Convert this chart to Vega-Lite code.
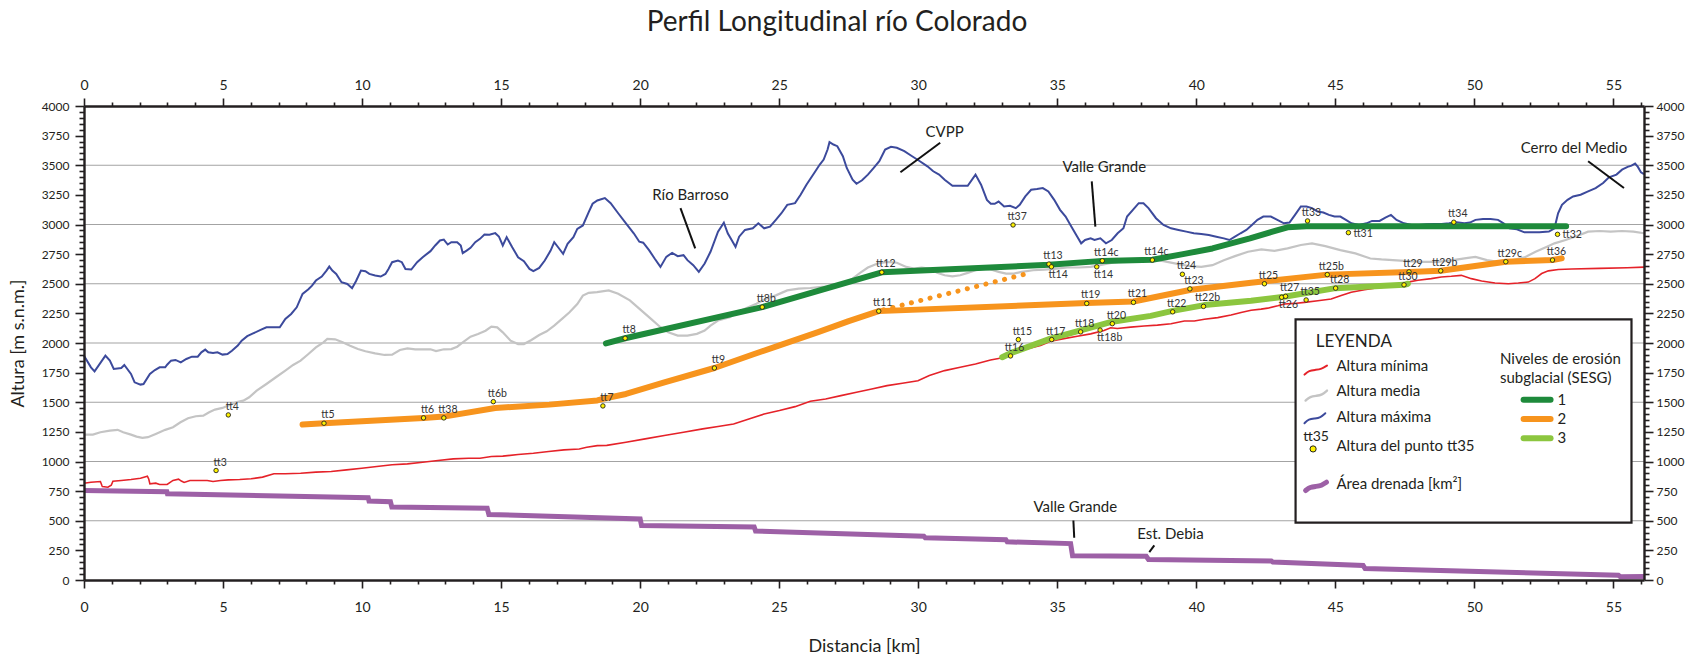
{
  "$schema": "https://vega.github.io/schema/vega-lite/v6.json",
  "width": 1560,
  "height": 474,
  "autosize": {"type": "none"},
  "padding": {"left": 84, "top": 106, "right": 44, "bottom": 79},
  "background": "white",
  "title": {"text": "Perfil Longitudinal río Colorado", "font": "Lato", "fontSize": 28, "fontWeight": "normal", "color": "#231f20", "anchor": "middle", "offset": 41, "dx": -27},
  "config": {"view": {"stroke": null}, "font": "Lato"},
  "datasets": {
    "rejilla": [{"m": 500}, {"m": 1000}, {"m": 1500}, {"m": 2000}, {"m": 2500}, {"m": 3000}, {"m": 3500}],
    "maxima": [
      {"km":0,"m":1893},{"km":0.25,"m":1795},{"km":0.38,"m":1761},{"km":0.77,"m":1893},{"km":0.93,"m":1851},{"km":1.07,"m":1781},{"km":1.34,"m":1789},{"km":1.45,"m":1815},{"km":1.69,"m":1739},{"km":1.82,"m":1668},{"km":2.03,"m":1649},{"km":2.14,"m":1654},{"km":2.37,"m":1739},{"km":2.55,"m":1772},{"km":2.72,"m":1795},{"km":2.92,"m":1795},{"km":2.99,"m":1817},{"km":3.13,"m":1851},{"km":3.29,"m":1857},{"km":3.48,"m":1837},{"km":3.68,"m":1865},{"km":3.88,"m":1885},{"km":4.09,"m":1885},{"km":4.22,"m":1921},{"km":4.36,"m":1944},{"km":4.47,"m":1921},{"km":4.64,"m":1916},{"km":4.8,"m":1921},{"km":4.98,"m":1902},{"km":5.16,"m":1907},{"km":5.32,"m":1935},{"km":5.53,"m":1978},{"km":5.67,"m":2020},{"km":5.87,"m":2058},{"km":6.08,"m":2081},{"km":6.35,"m":2110},{"km":6.56,"m":2132},{"km":6.83,"m":2132},{"km":7.04,"m":2132},{"km":7.24,"m":2203},{"km":7.45,"m":2245},{"km":7.65,"m":2301},{"km":7.86,"m":2414},{"km":8.07,"m":2453},{"km":8.2,"m":2484},{"km":8.34,"m":2527},{"km":8.55,"m":2561},{"km":8.72,"m":2611},{"km":8.82,"m":2645},{"km":8.93,"m":2611},{"km":9.07,"m":2583},{"km":9.26,"m":2513},{"km":9.47,"m":2498},{"km":9.64,"m":2462},{"km":9.78,"m":2521},{"km":9.96,"m":2611},{"km":10.12,"m":2606},{"km":10.26,"m":2583},{"km":10.47,"m":2569},{"km":10.67,"m":2561},{"km":10.84,"m":2583},{"km":10.95,"m":2625},{"km":11.08,"m":2682},{"km":11.29,"m":2696},{"km":11.43,"m":2682},{"km":11.56,"m":2625},{"km":11.77,"m":2620},{"km":11.98,"m":2682},{"km":12.18,"m":2724},{"km":12.46,"m":2775},{"km":12.63,"m":2823},{"km":12.8,"m":2865},{"km":12.94,"m":2873},{"km":13.08,"m":2831},{"km":13.21,"m":2851},{"km":13.42,"m":2851},{"km":13.55,"m":2823},{"km":13.62,"m":2758},{"km":13.76,"m":2780},{"km":13.9,"m":2803},{"km":14.07,"m":2851},{"km":14.24,"m":2879},{"km":14.4,"m":2916},{"km":14.58,"m":2913},{"km":14.79,"m":2927},{"km":14.92,"m":2899},{"km":15.06,"m":2823},{"km":15.2,"m":2893},{"km":15.4,"m":2808},{"km":15.61,"m":2724},{"km":15.82,"m":2690},{"km":16.02,"m":2625},{"km":16.16,"m":2606},{"km":16.37,"m":2634},{"km":16.57,"m":2696},{"km":16.78,"m":2780},{"km":16.91,"m":2851},{"km":17.05,"m":2808},{"km":17.23,"m":2752},{"km":17.39,"m":2837},{"km":17.6,"m":2893},{"km":17.74,"m":2963},{"km":17.94,"m":2992},{"km":18.15,"m":3104},{"km":18.29,"m":3175},{"km":18.46,"m":3203},{"km":18.73,"m":3223},{"km":18.94,"m":3180},{"km":19.21,"m":3095},{"km":19.49,"m":3010},{"km":19.77,"m":2926},{"km":19.97,"m":2855},{"km":20.11,"m":2846},{"km":20.32,"m":2784},{"km":20.52,"m":2713},{"km":20.73,"m":2642},{"km":20.94,"m":2727},{"km":21.15,"m":2761},{"km":21.35,"m":2733},{"km":21.56,"m":2741},{"km":21.7,"m":2699},{"km":21.91,"m":2657},{"km":22.11,"m":2600},{"km":22.32,"m":2671},{"km":22.53,"m":2770},{"km":22.8,"m":2940},{"km":23.01,"m":3016},{"km":23.15,"m":2926},{"km":23.29,"m":2869},{"km":23.43,"m":2812},{"km":23.56,"m":2897},{"km":23.77,"m":2954},{"km":24.05,"m":2968},{"km":24.25,"m":3010},{"km":24.46,"m":2968},{"km":24.67,"m":2982},{"km":24.88,"m":3039},{"km":25.08,"m":3095},{"km":25.29,"m":3166},{"km":25.57,"m":3180},{"km":25.77,"m":3251},{"km":25.98,"m":3336},{"km":26.26,"m":3435},{"km":26.46,"m":3506},{"km":26.6,"m":3548},{"km":26.74,"m":3633},{"km":26.81,"m":3695},{"km":26.95,"m":3675},{"km":27.09,"m":3661},{"km":27.29,"m":3576},{"km":27.43,"m":3477},{"km":27.64,"m":3378},{"km":27.78,"m":3344},{"km":27.98,"m":3373},{"km":28.19,"m":3421},{"km":28.4,"m":3477},{"km":28.6,"m":3534},{"km":28.81,"m":3633},{"km":29.02,"m":3656},{"km":29.23,"m":3647},{"km":29.5,"m":3619},{"km":29.78,"m":3576},{"km":30.06,"m":3534},{"km":30.33,"m":3491},{"km":30.54,"m":3449},{"km":30.75,"m":3421},{"km":30.95,"m":3378},{"km":31.23,"m":3327},{"km":31.51,"m":3327},{"km":31.78,"m":3327},{"km":32.06,"m":3421},{"km":32.26,"m":3336},{"km":32.47,"m":3208},{"km":32.61,"m":3175},{"km":32.75,"m":3175},{"km":32.89,"m":3194},{"km":33.09,"m":3152},{"km":33.3,"m":3158},{"km":33.51,"m":3138},{"km":33.65,"m":3166},{"km":33.85,"m":3237},{"km":34.06,"m":3293},{"km":34.27,"m":3299},{"km":34.48,"m":3307},{"km":34.68,"m":3279},{"km":34.89,"m":3208},{"km":35.1,"m":3124},{"km":35.3,"m":3067},{"km":35.51,"m":2982},{"km":35.72,"m":2897},{"km":35.86,"m":2841},{"km":36.0,"m":2869},{"km":36.2,"m":2883},{"km":36.34,"m":2869},{"km":36.55,"m":2883},{"km":36.75,"m":2841},{"km":36.96,"m":2869},{"km":37.17,"m":2926},{"km":37.38,"m":2968},{"km":37.51,"m":3067},{"km":37.72,"m":3124},{"km":37.93,"m":3180},{"km":38.1,"m":3180},{"km":38.28,"m":3138},{"km":38.55,"m":3053},{"km":38.82,"m":2996},{"km":39.09,"m":2968},{"km":39.36,"m":2954},{"km":39.64,"m":2940},{"km":39.91,"m":2926},{"km":40.18,"m":2920},{"km":40.45,"m":2911},{"km":40.72,"m":2897},{"km":40.99,"m":2883},{"km":41.19,"m":2869},{"km":41.39,"m":2897},{"km":41.59,"m":2926},{"km":41.8,"m":2954},{"km":42.0,"m":2996},{"km":42.2,"m":3039},{"km":42.41,"m":3067},{"km":42.68,"m":3067},{"km":42.88,"m":3044},{"km":43.15,"m":3010},{"km":43.35,"m":3016},{"km":43.55,"m":3081},{"km":43.76,"m":3152},{"km":43.96,"m":3152},{"km":44.16,"m":3138},{"km":44.36,"m":3109},{"km":44.57,"m":3101},{"km":44.77,"m":3081},{"km":44.97,"m":3067},{"km":45.18,"m":3067},{"km":45.38,"m":3039},{"km":45.58,"m":3010},{"km":45.85,"m":2996},{"km":46.12,"m":3010},{"km":46.32,"m":3030},{"km":46.59,"m":3030},{"km":46.8,"m":3058},{"km":47.0,"m":3081},{"km":47.2,"m":3039},{"km":47.47,"m":3010},{"km":47.74,"m":2996},{"km":48.01,"m":2996},{"km":48.28,"m":3002},{"km":48.55,"m":3005},{"km":48.82,"m":3005},{"km":49.09,"m":3010},{"km":49.36,"m":3019},{"km":49.64,"m":3010},{"km":49.84,"m":3016},{"km":50.04,"m":3039},{"km":50.31,"m":3047},{"km":50.58,"m":3047},{"km":50.85,"m":3039},{"km":51.05,"m":3010},{"km":51.26,"m":2968},{"km":51.53,"m":2960},{"km":51.8,"m":2934},{"km":52.07,"m":2934},{"km":52.34,"m":2934},{"km":52.68,"m":2940},{"km":52.88,"m":2968},{"km":53.01,"m":3095},{"km":53.15,"m":3166},{"km":53.35,"m":3208},{"km":53.55,"m":3237},{"km":53.82,"m":3251},{"km":54.09,"m":3279},{"km":54.36,"m":3307},{"km":54.63,"m":3350},{"km":54.84,"m":3398},{"km":55.11,"m":3421},{"km":55.31,"m":3463},{"km":55.51,"m":3486},{"km":55.65,"m":3497},{"km":55.78,"m":3514},{"km":55.88,"m":3486},{"km":55.99,"m":3441},{"km":56.1,"m":3426}
    ],
    "media": [
      {"km":0,"m":1227},{"km":0.32,"m":1227},{"km":0.59,"m":1247},{"km":0.93,"m":1261},{"km":1.21,"m":1267},{"km":1.41,"m":1247},{"km":1.69,"m":1227},{"km":1.89,"m":1210},{"km":2.1,"m":1199},{"km":2.3,"m":1205},{"km":2.58,"m":1233},{"km":2.92,"m":1267},{"km":3.2,"m":1289},{"km":3.47,"m":1331},{"km":3.74,"m":1365},{"km":4.02,"m":1382},{"km":4.29,"m":1387},{"km":4.5,"m":1416},{"km":4.71,"m":1438},{"km":4.98,"m":1452},{"km":5.19,"m":1472},{"km":5.46,"m":1500},{"km":5.73,"m":1514},{"km":5.94,"m":1542},{"km":6.21,"m":1598},{"km":6.56,"m":1654},{"km":6.9,"m":1711},{"km":7.24,"m":1767},{"km":7.52,"m":1815},{"km":7.79,"m":1851},{"km":8.07,"m":1907},{"km":8.34,"m":1963},{"km":8.61,"m":2006},{"km":8.75,"m":2034},{"km":9.03,"m":2031},{"km":9.3,"m":2006},{"km":9.57,"m":1977},{"km":9.85,"m":1949},{"km":10.12,"m":1930},{"km":10.47,"m":1913},{"km":10.81,"m":1899},{"km":11.08,"m":1901},{"km":11.36,"m":1941},{"km":11.63,"m":1955},{"km":11.91,"m":1947},{"km":12.18,"m":1947},{"km":12.46,"m":1947},{"km":12.66,"m":1932},{"km":12.94,"m":1947},{"km":13.21,"m":1949},{"km":13.42,"m":1969},{"km":13.62,"m":2006},{"km":13.9,"m":2053},{"km":14.17,"m":2076},{"km":14.44,"m":2104},{"km":14.65,"m":2138},{"km":14.86,"m":2132},{"km":15.06,"m":2090},{"km":15.34,"m":2020},{"km":15.61,"m":1991},{"km":15.82,"m":1991},{"km":16.09,"m":2025},{"km":16.37,"m":2067},{"km":16.64,"m":2099},{"km":16.91,"m":2146},{"km":17.19,"m":2203},{"km":17.46,"m":2259},{"km":17.74,"m":2329},{"km":17.94,"m":2400},{"km":18.15,"m":2423},{"km":18.45,"m":2430},{"km":18.87,"m":2444},{"km":19.21,"m":2416},{"km":19.63,"m":2360},{"km":20.04,"m":2275},{"km":20.39,"m":2204},{"km":20.73,"m":2133},{"km":21.01,"m":2091},{"km":21.35,"m":2062},{"km":21.7,"m":2062},{"km":22.04,"m":2077},{"km":22.32,"m":2105},{"km":22.53,"m":2147},{"km":22.8,"m":2190},{"km":23.22,"m":2218},{"km":23.63,"m":2275},{"km":23.91,"m":2303},{"km":24.18,"m":2331},{"km":24.53,"m":2374},{"km":24.88,"m":2402},{"km":25.29,"m":2444},{"km":25.7,"m":2459},{"km":26.12,"m":2464},{"km":26.53,"m":2473},{"km":26.95,"m":2473},{"km":27.29,"m":2501},{"km":27.64,"m":2543},{"km":27.91,"m":2592},{"km":28.19,"m":2637},{"km":28.54,"m":2671},{"km":28.88,"m":2685},{"km":29.23,"m":2677},{"km":29.57,"m":2642},{"km":29.85,"m":2628},{"km":30.12,"m":2637},{"km":30.4,"m":2628},{"km":30.68,"m":2592},{"km":30.95,"m":2572},{"km":31.23,"m":2563},{"km":31.51,"m":2572},{"km":31.78,"m":2592},{"km":32.06,"m":2614},{"km":32.33,"m":2628},{"km":32.61,"m":2620},{"km":32.89,"m":2600},{"km":33.16,"m":2586},{"km":33.44,"m":2586},{"km":33.72,"m":2600},{"km":34.13,"m":2614},{"km":34.54,"m":2620},{"km":34.96,"m":2628},{"km":35.37,"m":2637},{"km":35.79,"m":2637},{"km":36.2,"m":2642},{"km":36.62,"m":2660},{"km":37.03,"m":2680},{"km":37.44,"m":2690},{"km":37.86,"m":2700},{"km":38.38,"m":2705},{"km":38.82,"m":2691},{"km":39.36,"m":2665},{"km":39.77,"m":2648},{"km":40.18,"m":2642},{"km":40.58,"m":2657},{"km":40.99,"m":2699},{"km":41.39,"m":2733},{"km":41.86,"m":2770},{"km":42.34,"m":2790},{"km":42.81,"m":2778},{"km":43.28,"m":2798},{"km":43.76,"m":2827},{"km":44.16,"m":2841},{"km":44.64,"m":2818},{"km":45.18,"m":2784},{"km":45.72,"m":2756},{"km":46.26,"m":2713},{"km":46.66,"m":2705},{"km":47.07,"m":2699},{"km":47.61,"m":2691},{"km":48.15,"m":2685},{"km":48.69,"m":2685},{"km":49.23,"m":2699},{"km":49.77,"m":2719},{"km":50.04,"m":2727},{"km":50.45,"m":2699},{"km":50.85,"m":2685},{"km":51.39,"m":2699},{"km":51.8,"m":2722},{"km":52.2,"m":2770},{"km":52.61,"m":2812},{"km":52.88,"m":2841},{"km":53.28,"m":2869},{"km":53.69,"m":2903},{"km":54.09,"m":2940},{"km":54.5,"m":2945},{"km":54.9,"m":2940},{"km":55.31,"m":2945},{"km":55.72,"m":2940},{"km":56.1,"m":2926}
    ],
    "minima": [
      {"km":0,"m":817},{"km":0.25,"m":825},{"km":0.59,"m":831},{"km":0.64,"m":800},{"km":0.66,"m":789},{"km":0.86,"m":783},{"km":0.98,"m":800},{"km":1.04,"m":834},{"km":1.34,"m":840},{"km":1.69,"m":848},{"km":2.03,"m":859},{"km":2.28,"m":876},{"km":2.33,"m":850},{"km":2.37,"m":811},{"km":2.58,"m":817},{"km":2.72,"m":806},{"km":2.99,"m":806},{"km":3.2,"m":840},{"km":3.4,"m":851},{"km":3.5,"m":835},{"km":3.6,"m":823},{"km":3.81,"m":840},{"km":4.09,"m":840},{"km":4.43,"m":840},{"km":4.64,"m":831},{"km":4.91,"m":840},{"km":5.19,"m":845},{"km":5.6,"m":848},{"km":6.01,"m":854},{"km":6.42,"m":868},{"km":6.83,"m":896},{"km":7.24,"m":896},{"km":7.79,"m":901},{"km":8.34,"m":910},{"km":8.89,"m":915},{"km":9.44,"m":929},{"km":9.99,"m":943},{"km":10.53,"m":958},{"km":11.08,"m":972},{"km":11.63,"m":980},{"km":12.18,"m":994},{"km":12.73,"m":1008},{"km":13.28,"m":1022},{"km":13.83,"m":1028},{"km":14.24,"m":1028},{"km":14.65,"m":1042},{"km":15.06,"m":1045},{"km":15.61,"m":1059},{"km":16.16,"m":1070},{"km":16.71,"m":1084},{"km":17.26,"m":1098},{"km":17.81,"m":1106},{"km":18.08,"m":1120},{"km":18.46,"m":1134},{"km":18.8,"m":1136},{"km":19.49,"m":1163},{"km":20.18,"m":1191},{"km":20.87,"m":1219},{"km":21.56,"m":1247},{"km":22.25,"m":1275},{"km":22.8,"m":1295},{"km":23.36,"m":1317},{"km":23.91,"m":1359},{"km":24.46,"m":1401},{"km":25.01,"m":1430},{"km":25.57,"m":1463},{"km":26.12,"m":1508},{"km":26.67,"m":1528},{"km":27.22,"m":1556},{"km":27.78,"m":1584},{"km":28.33,"m":1612},{"km":28.88,"m":1640},{"km":29.43,"m":1660},{"km":29.99,"m":1682},{"km":30.4,"m":1725},{"km":30.95,"m":1767},{"km":31.51,"m":1795},{"km":32.06,"m":1823},{"km":32.6,"m":1857},{"km":33.08,"m":1877},{"km":33.32,"m":1894},{"km":33.56,"m":1929},{"km":34.04,"m":1957},{"km":34.4,"m":1980},{"km":34.76,"m":2014},{"km":35.24,"m":2037},{"km":35.72,"m":2057},{"km":36.2,"m":2077},{"km":36.68,"m":2106},{"km":36.92,"m":2129},{"km":37.16,"m":2123},{"km":37.64,"m":2134},{"km":38.12,"m":2143},{"km":38.6,"m":2151},{"km":39.09,"m":2163},{"km":39.57,"m":2186},{"km":39.93,"m":2186},{"km":40.29,"m":2200},{"km":40.77,"m":2214},{"km":41.25,"m":2237},{"km":41.61,"m":2257},{"km":41.97,"m":2277},{"km":42.33,"m":2286},{"km":42.57,"m":2294},{"km":42.93,"m":2314},{"km":43.17,"m":2329},{"km":43.53,"m":2334},{"km":43.89,"m":2343},{"km":44.37,"m":2357},{"km":44.85,"m":2371},{"km":45.21,"m":2400},{"km":45.57,"m":2429},{"km":46.05,"m":2449},{"km":46.53,"m":2466},{"km":47.01,"m":2477},{"km":47.43,"m":2491},{"km":47.61,"m":2514},{"km":47.97,"m":2529},{"km":48.45,"m":2543},{"km":48.81,"m":2557},{"km":49.17,"m":2563},{"km":49.53,"m":2571},{"km":49.89,"m":2543},{"km":50.26,"m":2523},{"km":50.74,"m":2506},{"km":51.22,"m":2500},{"km":51.58,"m":2506},{"km":51.94,"m":2514},{"km":52.18,"m":2543},{"km":52.42,"m":2586},{"km":52.66,"m":2609},{"km":53.02,"m":2620},{"km":53.5,"m":2625},{"km":54.5,"m":2630},{"km":55.5,"m":2635},{"km":56.1,"m":2640}
    ],
    "area": [
      {"km":0,"m":755},{"km":2.98,"m":745},{"km":3.0,"m":727},{"km":10.22,"m":695},{"km":10.25,"m":667},{"km":11.02,"m":660},{"km":11.07,"m":615},{"km":14.5,"m":605},{"km":14.56,"m":553},{"km":20.0,"m":515},{"km":20.05,"m":460},{"km":24.1,"m":447},{"km":24.15,"m":414},{"km":30.2,"m":370},{"km":30.25,"m":357},{"km":33.15,"m":340},{"km":33.2,"m":322},{"km":35.48,"m":307},{"km":35.55,"m":204},{"km":38.2,"m":200},{"km":38.28,"m":173},{"km":42.7,"m":160},{"km":42.75,"m":152},{"km":46.0,"m":122},{"km":46.07,"m":97},{"km":55.18,"m":40},{"km":55.25,"m":27},{"km":56.1,"m":30}
    ],
    "sesg": [
      {"nivel":"1","km":18.77,"m":1997},{"nivel":"1","km":19.46,"m":2040},{"nivel":"1","km":24.39,"m":2303},{"nivel":"1","km":28.69,"m":2597},{"nivel":"1","km":34.71,"m":2660},{"nivel":"1","km":36.62,"m":2693},{"nivel":"1","km":38.42,"m":2703},{"nivel":"1","km":39.57,"m":2752},{"nivel":"1","km":40.58,"m":2798},{"nivel":"1","km":41.93,"m":2883},{"nivel":"1","km":42.74,"m":2940},{"nivel":"1","km":43.28,"m":2976},{"nivel":"1","km":43.96,"m":2986},{"nivel":"1","km":53.3,"m":2986},
      {"nivel":"2","km":7.86,"m":1312},{"nivel":"2","km":8.63,"m":1323},{"nivel":"2","km":12.21,"m":1368},{"nivel":"2","km":12.94,"m":1379},{"nivel":"2","km":14.79,"m":1452},{"nivel":"2","km":16.73,"m":1480},{"nivel":"2","km":18.46,"m":1515},{"nivel":"2","km":18.66,"m":1528},{"nivel":"2","km":19.49,"m":1570},{"nivel":"2","km":20.87,"m":1668},{"nivel":"2","km":22.67,"m":1789},{"nivel":"2","km":24.05,"m":1903},{"nivel":"2","km":25.01,"m":1980},{"nivel":"2","km":26.4,"m":2092},{"nivel":"2","km":27.5,"m":2185},{"nivel":"2","km":28.58,"m":2269},{"nivel":"2","km":36.06,"m":2337},{"nivel":"2","km":37.74,"m":2350},{"nivel":"2","km":39.81,"m":2449},{"nivel":"2","km":41.97,"m":2509},{"nivel":"2","km":44.71,"m":2577},{"nivel":"2","km":47.65,"m":2600},{"nivel":"2","km":48.79,"m":2609},{"nivel":"2","km":51.13,"m":2686},{"nivel":"2","km":52.81,"m":2700},{"nivel":"2","km":53.14,"m":2714},
      {"nivel":"3","km":33.02,"m":1880},{"nivel":"3","km":33.32,"m":1914},{"nivel":"3","km":34.76,"m":2037},{"nivel":"3","km":35.84,"m":2106},{"nivel":"3","km":36.98,"m":2180},{"nivel":"3","km":38.36,"m":2229},{"nivel":"3","km":39.15,"m":2271},{"nivel":"3","km":40.29,"m":2320},{"nivel":"3","km":41.97,"m":2357},{"nivel":"3","km":43.16,"m":2390},{"nivel":"3","km":45.01,"m":2463},{"nivel":"3","km":47.47,"m":2491},{"nivel":"3","km":47.61,"m":2500}
    ],
    "sesg_inferido": [{"km":28.75,"m":2280},{"km":34.0,"m":2590}],
    "puntos": [
      {"id":"tt3","km":4.75,"m":924,"lado":"arriba"},
      {"id":"tt4","km":5.19,"m":1393,"lado":"arriba"},
      {"id":"tt5","km":8.63,"m":1323,"lado":"arriba"},
      {"id":"tt6","km":12.21,"m":1368,"lado":"arriba"},
      {"id":"tt38","km":12.94,"m":1368,"lado":"arriba"},
      {"id":"tt6b","km":14.72,"m":1505,"lado":"arriba"},
      {"id":"tt7","km":18.66,"m":1469,"lado":"arriba"},
      {"id":"tt8","km":19.46,"m":2040,"lado":"arriba"},
      {"id":"tt8b","km":24.39,"m":2303,"lado":"arriba"},
      {"id":"tt9","km":22.67,"m":1789,"lado":"arriba"},
      {"id":"tt11","km":28.58,"m":2269,"lado":"arriba"},
      {"id":"tt12","km":28.69,"m":2597,"lado":"arriba"},
      {"id":"tt13","km":34.7,"m":2666,"lado":"arriba"},
      {"id":"tt14","km":34.79,"m":2643,"lado":"abajo"},
      {"id":"tt14c","km":36.62,"m":2694,"lado":"arriba"},
      {"id":"tt14","km":36.42,"m":2643,"lado":"abajo"},
      {"id":"tt14c","km":38.42,"m":2700,"lado":"arriba"},
      {"id":"tt15","km":33.6,"m":2029,"lado":"arriba"},
      {"id":"tt16","km":33.32,"m":1891,"lado":"arriba"},
      {"id":"tt17","km":34.8,"m":2029,"lado":"arriba"},
      {"id":"tt18","km":35.84,"m":2094,"lado":"arriba"},
      {"id":"tt18b","km":36.54,"m":2109,"lado":"abajo"},
      {"id":"tt19","km":36.06,"m":2334,"lado":"arriba"},
      {"id":"tt20","km":36.98,"m":2163,"lado":"arriba"},
      {"id":"tt21","km":37.74,"m":2343,"lado":"arriba"},
      {"id":"tt22","km":39.15,"m":2263,"lado":"arriba"},
      {"id":"tt22b","km":40.26,"m":2309,"lado":"arriba"},
      {"id":"tt23","km":39.77,"m":2457,"lado":"arriba"},
      {"id":"tt24","km":39.5,"m":2580,"lado":"arriba"},
      {"id":"tt25","km":42.45,"m":2500,"lado":"arriba"},
      {"id":"tt25b","km":44.71,"m":2577,"lado":"arriba"},
      {"id":"tt26","km":43.07,"m":2386,"lado":"abajo"},
      {"id":"tt27","km":43.21,"m":2394,"lado":"arriba"},
      {"id":"tt28","km":45.01,"m":2463,"lado":"arriba"},
      {"id":"tt29","km":47.65,"m":2600,"lado":"arriba"},
      {"id":"tt29b","km":48.79,"m":2609,"lado":"arriba"},
      {"id":"tt29c","km":51.13,"m":2686,"lado":"arriba"},
      {"id":"tt30","km":47.47,"m":2491,"lado":"arriba"},
      {"id":"tt35","km":43.95,"m":2363,"lado":"arriba"},
      {"id":"tt36","km":52.81,"m":2700,"lado":"arriba"},
      {"id":"tt33","km":44.0,"m":3030,"lado":"arriba"},
      {"id":"tt31","km":45.47,"m":2931,"lado":"derecha"},
      {"id":"tt34","km":49.26,"m":3019,"lado":"arriba"},
      {"id":"tt32","km":52.99,"m":2917,"lado":"derecha"},
      {"id":"tt37","km":33.41,"m":2996,"lado":"arriba"}
    ],
    "rotulos": [
      {"texto":"Río Barroso","km":21.81,"m":3251},
      {"texto":"CVPP","km":30.95,"m":3780},
      {"texto":"Valle Grande","km":36.69,"m":3486},
      {"texto":"Cerro del Medio","km":53.58,"m":3647},
      {"texto":"Valle Grande","km":35.65,"m":615},
      {"texto":"Est. Debia","km":39.07,"m":384}
    ],
    "guias": [
      {"km":21.45,"m":3138,"km2":21.98,"m2":2798},
      {"km":30.79,"m":3690,"km2":29.36,"m2":3441},
      {"km":36.24,"m":3364,"km2":36.37,"m2":2982},
      {"km":54.09,"m":3534,"km2":55.38,"m2":3308},
      {"km":35.58,"m":502,"km2":35.61,"m2":356},
      {"km":38.49,"m":292,"km2":38.31,"m2":235}
    ],
    "caja": [{"km":43.57,"km2":55.65,"m":485,"m2":2200}],
    "ley_textos": [
      {"texto":"Altura mínima","km":45.04,"m":1809},
      {"texto":"Altura media","km":45.04,"m":1593},
      {"texto":"Altura máxima","km":45.04,"m":1379},
      {"texto":"Altura del punto tt35","km":45.04,"m":1129},
      {"texto":"Área drenada [km²]","km":45.04,"m":811},
      {"texto":"Niveles de erosión","km":50.92,"m":1865},
      {"texto":"subglacial (SESG)","km":50.92,"m":1705},
      {"texto":"1","km":52.99,"m":1522},
      {"texto":"2","km":52.99,"m":1359},
      {"texto":"3","km":52.99,"m":1196}
    ],
    "ley_minima": [{"km":43.89,"m":1733},{"km":44.05,"m":1768},{"km":44.3,"m":1773},{"km":44.5,"m":1780},{"km":44.7,"m":1809}],
    "ley_media": [{"km":43.93,"m":1514},{"km":44.09,"m":1549},{"km":44.33,"m":1554},{"km":44.52,"m":1561},{"km":44.7,"m":1598}],
    "ley_maxima": [{"km":43.89,"m":1323},{"km":44.04,"m":1358},{"km":44.27,"m":1363},{"km":44.46,"m":1370},{"km":44.64,"m":1407}],
    "ley_area": [{"km":43.93,"m":755},{"km":44.09,"m":785},{"km":44.31,"m":790},{"km":44.5,"m":796},{"km":44.68,"m":825}],
    "ley_sesg": [
      {"nivel":"1","km":51.77,"m":1522},{"nivel":"1","km":52.74,"m":1522},
      {"nivel":"2","km":51.77,"m":1359},{"nivel":"2","km":52.74,"m":1359},
      {"nivel":"3","km":51.77,"m":1196},{"nivel":"3","km":52.74,"m":1196}
    ],
    "ley_punto": [{"id":"tt35","km":44.2,"m":1106}]
  },
  "layer": [
    {
      "data": {"name": "rejilla"},
      "mark": {"type": "rule", "color": "#a3a3a3", "strokeWidth": 1.2},
      "encoding": {"y": {"field": "m", "type": "quantitative", "axis": null}}
    },
    {
      "data": {"name": "media"},
      "mark": {"type": "line", "color": "#c4c4c4", "strokeWidth": 2.2},
      "encoding": {
        "x": {"field": "km", "type": "quantitative", "scale": {"domain": [0, 56.1], "nice": false, "zero": false},
          "axis": {"orient": "bottom", "zindex": 2,
            "values": [0,1,2,3,4,5,6,7,8,9,10,11,12,13,14,15,16,17,18,19,20,21,22,23,24,25,26,27,28,29,30,31,32,33,34,35,36,37,38,39,40,41,42,43,44,45,46,47,48,49,50,51,52,53,54,55,56],
            "labelExpr": "datum.value % 5 === 0 ? datum.label : ''",
            "tickSize": {"condition": {"test": "datum.value % 5 === 0", "value": 8}, "value": 4},
            "tickWidth": 1.6, "tickColor": "#231f20", "domainColor": "#231f20", "domainWidth": 2.4,
            "labelFont": "Lato", "labelFontSize": 14, "labelColor": "#231f20", "labelPadding": 12,
            "labelOverlap": false, "labelFlush": false, "labelBound": false, "grid": false,
            "title": "Distancia [km]", "titleFont": "Lato", "titleFontSize": 18, "titleFontWeight": "normal", "titleColor": "#231f20", "titlePadding": 23}},
        "y": {"field": "m", "type": "quantitative", "scale": {"domain": [0, 4000], "nice": false, "zero": false},
          "axis": {"orient": "left", "zindex": 2, "format": "d",
            "values": [0,50,100,150,200,250,300,350,400,450,500,550,600,650,700,750,800,850,900,950,1000,1050,1100,1150,1200,1250,1300,1350,1400,1450,1500,1550,1600,1650,1700,1750,1800,1850,1900,1950,2000,2050,2100,2150,2200,2250,2300,2350,2400,2450,2500,2550,2600,2650,2700,2750,2800,2850,2900,2950,3000,3050,3100,3150,3200,3250,3300,3350,3400,3450,3500,3550,3600,3650,3700,3750,3800,3850,3900,3950,4000],
            "labelExpr": "datum.value % 250 === 0 ? datum.label : ''",
            "tickSize": {"condition": {"test": "datum.value % 250 === 0", "value": 9}, "value": 5},
            "tickWidth": 1.6, "tickColor": "#231f20", "domainColor": "#231f20", "domainWidth": 2.4,
            "labelFont": "Lato", "labelFontSize": 12, "labelColor": "#231f20", "labelPadding": 6,
            "labelOverlap": false, "labelFlush": false, "labelBound": false, "grid": false,
            "title": "Altura [m s.n.m.]", "titleFont": "Lato", "titleFontSize": 18, "titleFontWeight": "normal", "titleColor": "#231f20", "titlePadding": 14}}
      }
    },
    {
      "data": {"name": "minima"},
      "mark": {"type": "line", "color": "#e52229", "strokeWidth": 1.6},
      "encoding": {
        "x": {"field": "km", "type": "quantitative",
          "axis": {"orient": "top", "zindex": 2,
            "values": [0,1,2,3,4,5,6,7,8,9,10,11,12,13,14,15,16,17,18,19,20,21,22,23,24,25,26,27,28,29,30,31,32,33,34,35,36,37,38,39,40,41,42,43,44,45,46,47,48,49,50,51,52,53,54,55,56],
            "labelExpr": "datum.value % 5 === 0 ? datum.label : ''",
            "tickSize": {"condition": {"test": "datum.value % 5 === 0", "value": 8}, "value": 4},
            "tickWidth": 1.6, "tickColor": "#231f20", "domainColor": "#231f20", "domainWidth": 2.4,
            "labelFont": "Lato", "labelFontSize": 14, "labelColor": "#231f20", "labelPadding": 6,
            "labelOverlap": false, "labelFlush": false, "labelBound": false, "grid": false, "title": null}},
        "y": {"field": "m", "type": "quantitative",
          "axis": {"orient": "right", "zindex": 2, "format": "d",
            "values": [0,50,100,150,200,250,300,350,400,450,500,550,600,650,700,750,800,850,900,950,1000,1050,1100,1150,1200,1250,1300,1350,1400,1450,1500,1550,1600,1650,1700,1750,1800,1850,1900,1950,2000,2050,2100,2150,2200,2250,2300,2350,2400,2450,2500,2550,2600,2650,2700,2750,2800,2850,2900,2950,3000,3050,3100,3150,3200,3250,3300,3350,3400,3450,3500,3550,3600,3650,3700,3750,3800,3850,3900,3950,4000],
            "labelExpr": "datum.value % 250 === 0 ? datum.label : ''",
            "tickSize": {"condition": {"test": "datum.value % 250 === 0", "value": 9}, "value": 5},
            "tickWidth": 1.6, "tickColor": "#231f20", "domainColor": "#231f20", "domainWidth": 2.4,
            "labelFont": "Lato", "labelFontSize": 12, "labelColor": "#231f20", "labelPadding": 3,
            "labelOverlap": false, "labelFlush": false, "labelBound": false, "grid": false, "title": null}}
      }
    },
    {
      "data": {"name": "maxima"},
      "mark": {"type": "line", "color": "#3c4a9c", "strokeWidth": 2},
      "encoding": {"x": {"field": "km", "type": "quantitative", "axis": null}, "y": {"field": "m", "type": "quantitative", "axis": null}}
    },
    {
      "data": {"name": "area"},
      "mark": {"type": "line", "color": "#9d60a6", "strokeWidth": 5},
      "encoding": {"x": {"field": "km", "type": "quantitative", "axis": null}, "y": {"field": "m", "type": "quantitative", "axis": null}}
    },
    {
      "data": {"name": "sesg"},
      "mark": {"type": "line", "strokeWidth": 6, "strokeCap": "round", "strokeJoin": "round"},
      "encoding": {
        "x": {"field": "km", "type": "quantitative", "axis": null},
        "y": {"field": "m", "type": "quantitative", "axis": null},
        "color": {"field": "nivel", "type": "nominal", "scale": {"domain": ["1", "2", "3"], "range": ["#1e8a3b", "#f7941d", "#8cc63f"]}, "legend": null}
      }
    },
    {
      "data": {"name": "sesg_inferido"},
      "mark": {"type": "line", "color": "#f7941d", "strokeWidth": 5, "strokeCap": "round", "strokeDash": [0.1, 9.5]},
      "encoding": {"x": {"field": "km", "type": "quantitative", "axis": null}, "y": {"field": "m", "type": "quantitative", "axis": null}}
    },
    {
      "data": {"name": "puntos"},
      "mark": {"type": "point", "shape": "circle", "filled": true, "fill": "#fff200", "stroke": "#222222", "strokeWidth": 0.9, "size": 20, "opacity": 1},
      "encoding": {"x": {"field": "km", "type": "quantitative", "axis": null}, "y": {"field": "m", "type": "quantitative", "axis": null}}
    },
    {
      "data": {"name": "puntos"},
      "transform": [{"filter": "datum.lado === 'arriba'"}],
      "mark": {"type": "text", "font": "Lato", "fontSize": 10.5, "color": "#333333", "align": "center", "baseline": "alphabetic", "dx": 4, "dy": -5},
      "encoding": {"x": {"field": "km", "type": "quantitative", "axis": null}, "y": {"field": "m", "type": "quantitative", "axis": null}, "text": {"field": "id"}}
    },
    {
      "data": {"name": "puntos"},
      "transform": [{"filter": "datum.lado === 'abajo'"}],
      "mark": {"type": "text", "font": "Lato", "fontSize": 10.5, "color": "#333333", "align": "left", "baseline": "top", "dx": -3, "dy": 3},
      "encoding": {"x": {"field": "km", "type": "quantitative", "axis": null}, "y": {"field": "m", "type": "quantitative", "axis": null}, "text": {"field": "id"}}
    },
    {
      "data": {"name": "puntos"},
      "transform": [{"filter": "datum.lado === 'derecha'"}],
      "mark": {"type": "text", "font": "Lato", "fontSize": 10.5, "color": "#333333", "align": "left", "baseline": "middle", "dx": 5, "dy": 1},
      "encoding": {"x": {"field": "km", "type": "quantitative", "axis": null}, "y": {"field": "m", "type": "quantitative", "axis": null}, "text": {"field": "id"}}
    },
    {
      "data": {"name": "guias"},
      "mark": {"type": "rule", "color": "#111111", "strokeWidth": 2},
      "encoding": {
        "x": {"field": "km", "type": "quantitative", "axis": null}, "y": {"field": "m", "type": "quantitative", "axis": null},
        "x2": {"field": "km2"}, "y2": {"field": "m2"}
      }
    },
    {
      "data": {"name": "rotulos"},
      "mark": {"type": "text", "font": "Lato", "fontSize": 15, "color": "#231f20", "align": "center", "baseline": "middle"},
      "encoding": {"x": {"field": "km", "type": "quantitative", "axis": null}, "y": {"field": "m", "type": "quantitative", "axis": null}, "text": {"field": "texto"}}
    },
    {
      "data": {"name": "caja"},
      "mark": {"type": "rect", "fill": "white", "stroke": "#231f20", "strokeWidth": 2.2},
      "encoding": {
        "x": {"field": "km", "type": "quantitative", "axis": null}, "x2": {"field": "km2"},
        "y": {"field": "m", "type": "quantitative", "axis": null}, "y2": {"field": "m2"}
      }
    },
    {
      "data": {"values": [{"texto": "LEYENDA", "km": 44.3, "m": 2011}]},
      "mark": {"type": "text", "font": "Lato", "fontSize": 17, "color": "#231f20", "align": "left", "baseline": "middle"},
      "encoding": {"x": {"field": "km", "type": "quantitative", "axis": null}, "y": {"field": "m", "type": "quantitative", "axis": null}, "text": {"field": "texto"}}
    },
    {
      "data": {"name": "ley_textos"},
      "mark": {"type": "text", "font": "Lato", "fontSize": 15, "color": "#231f20", "align": "left", "baseline": "middle"},
      "encoding": {"x": {"field": "km", "type": "quantitative", "axis": null}, "y": {"field": "m", "type": "quantitative", "axis": null}, "text": {"field": "texto"}}
    },
    {
      "data": {"name": "ley_minima"},
      "mark": {"type": "line", "color": "#e52229", "strokeWidth": 2, "interpolate": "basis", "strokeCap": "round"},
      "encoding": {"x": {"field": "km", "type": "quantitative", "axis": null}, "y": {"field": "m", "type": "quantitative", "axis": null}}
    },
    {
      "data": {"name": "ley_media"},
      "mark": {"type": "line", "color": "#c4c4c4", "strokeWidth": 2.4, "interpolate": "basis", "strokeCap": "round"},
      "encoding": {"x": {"field": "km", "type": "quantitative", "axis": null}, "y": {"field": "m", "type": "quantitative", "axis": null}}
    },
    {
      "data": {"name": "ley_maxima"},
      "mark": {"type": "line", "color": "#3c4a9c", "strokeWidth": 2, "interpolate": "basis", "strokeCap": "round"},
      "encoding": {"x": {"field": "km", "type": "quantitative", "axis": null}, "y": {"field": "m", "type": "quantitative", "axis": null}}
    },
    {
      "data": {"name": "ley_area"},
      "mark": {"type": "line", "color": "#9d60a6", "strokeWidth": 5, "interpolate": "basis", "strokeCap": "round"},
      "encoding": {"x": {"field": "km", "type": "quantitative", "axis": null}, "y": {"field": "m", "type": "quantitative", "axis": null}}
    },
    {
      "data": {"name": "ley_sesg"},
      "mark": {"type": "line", "strokeWidth": 6, "strokeCap": "round"},
      "encoding": {
        "x": {"field": "km", "type": "quantitative", "axis": null},
        "y": {"field": "m", "type": "quantitative", "axis": null},
        "color": {"field": "nivel", "type": "nominal", "scale": {"domain": ["1", "2", "3"], "range": ["#1e8a3b", "#f7941d", "#8cc63f"]}, "legend": null}
      }
    },
    {
      "data": {"name": "ley_punto"},
      "mark": {"type": "point", "shape": "circle", "filled": true, "fill": "#fff200", "stroke": "#222222", "strokeWidth": 1, "size": 38, "opacity": 1},
      "encoding": {"x": {"field": "km", "type": "quantitative", "axis": null}, "y": {"field": "m", "type": "quantitative", "axis": null}}
    },
    {
      "data": {"name": "ley_punto"},
      "mark": {"type": "text", "font": "Lato", "fontSize": 14, "color": "#231f20", "align": "center", "baseline": "alphabetic", "dx": 3, "dy": -8},
      "encoding": {"x": {"field": "km", "type": "quantitative", "axis": null}, "y": {"field": "m", "type": "quantitative", "axis": null}, "text": {"field": "id"}}
    }
  ],
  "resolve": {"axis": {"x": "independent", "y": "independent"}}
}
